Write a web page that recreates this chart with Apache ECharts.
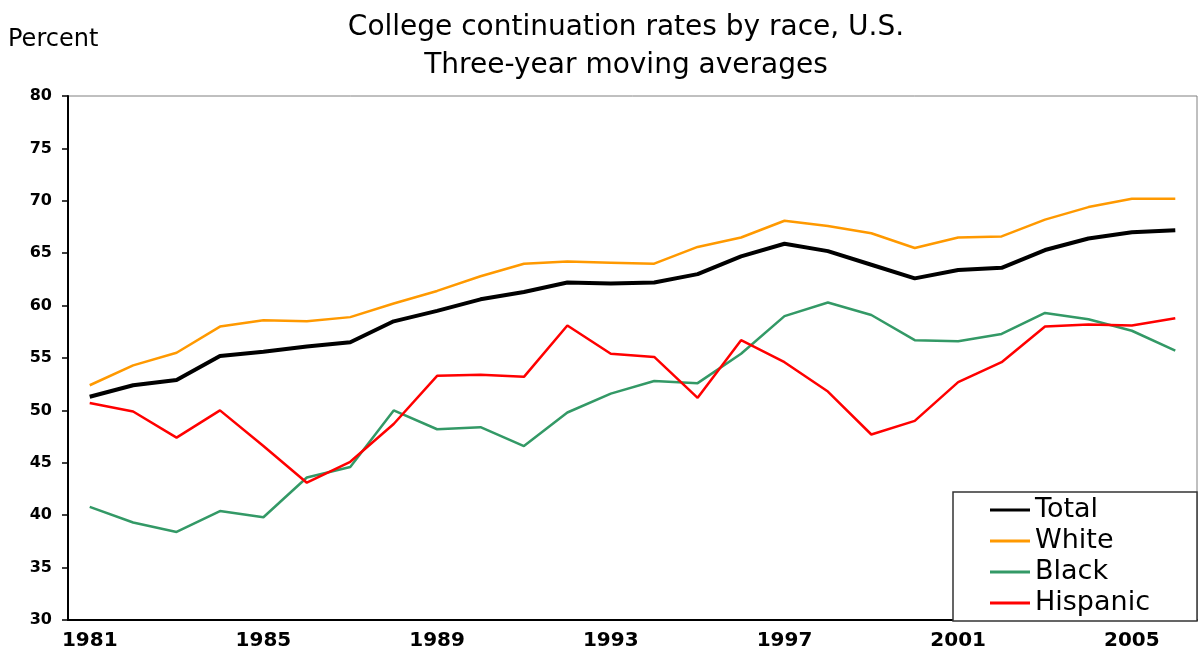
<!DOCTYPE html>
<html>
<head>
<meta charset="utf-8">
<script src="https://cdn.jsdelivr.net/npm/echarts@6/dist/echarts.min.js"></script>
<style>
  html, body { margin: 0; padding: 0; background: #fff; }
  #chart { width: 1199px; height: 655px; }
</style>
</head>
<body>
<div id="chart"></div>
<script>
const years = ['1981','1982','1983','1984','1985','1986','1987','1988','1989','1990','1991','1992','1993',
  '1994','1995','1996','1997','1998','1999','2000','2001','2002','2003','2004','2005','2006'];

const total    = [51.3, 52.4, 52.9, 55.2, 55.6, 56.1, 56.5, 58.5, 59.5, 60.6, 61.3, 62.2, 62.1,
                  62.2, 63.0, 64.7, 65.9, 65.2, 63.9, 62.6, 63.4, 63.6, 65.3, 66.4, 67.0, 67.2];
const white    = [52.4, 54.3, 55.5, 58.0, 58.6, 58.5, 58.9, 60.2, 61.4, 62.8, 64.0, 64.2, 64.1,
                  64.0, 65.6, 66.5, 68.1, 67.6, 66.9, 65.5, 66.5, 66.6, 68.2, 69.4, 70.2, 70.2];
const black    = [40.8, 39.3, 38.4, 40.4, 39.8, 43.6, 44.6, 50.0, 48.2, 48.4, 46.6, 49.8, 51.6,
                  52.8, 52.6, 55.4, 59.0, 60.3, 59.1, 56.7, 56.6, 57.3, 59.3, 58.7, 57.6, 55.7];
const hispanic = [50.7, 49.9, 47.4, 50.0, 46.6, 43.1, 45.1, 48.7, 53.3, 53.4, 53.2, 58.1, 55.4,
                  55.1, 51.2, 56.7, 54.6, 51.8, 47.7, 49.0, 52.7, 54.6, 58.0, 58.2, 58.1, 58.8];

const font = 'DejaVu Sans';

const chart = echarts.init(document.getElementById('chart'));

chart.setOption({
  animation: false,
  backgroundColor: '#fff',
  title: {
    text: 'College continuation rates by race, U.S.\nThree-year moving averages',
    left: 621,
    top: 4,
    textAlign: 'center',
    textStyle: {
      fontFamily: font,
      fontSize: 28,
      fontWeight: 'normal',
      color: '#000',
      lineHeight: 38,
      align: 'center'
    }
  },
  graphic: [
    {
      type: 'text',
      left: 8,
      top: 28,
      style: { text: 'Percent', font: '24px "DejaVu Sans"', fill: '#000' }
    }
  ],
  grid: {
    left: 68,
    right: 2,
    top: 96,
    bottom: 35,
    show: true,
    borderColor: '#808080',
    borderWidth: 1,
    containLabel: false
  },
  legend: {
    orient: 'vertical',
    left: 953,
    top: 492,
    padding: [3, 47, 3, 37],
    icon: 'rect',
    itemWidth: 40,
    itemHeight: 3,
    itemGap: 1,
    backgroundColor: '#fff',
    borderColor: '#333',
    borderWidth: 1.5,
    textStyle: { fontFamily: font, fontSize: 27, color: '#000', lineHeight: 30 },
    data: ['Total', 'White', 'Black', 'Hispanic']
  },
  xAxis: {
    type: 'category',
    data: years,
    boundaryGap: true,
    axisLine: { lineStyle: { color: '#000', width: 2 } },
    axisTick: { interval: 0, length: 6, lineStyle: { color: '#000', width: 1.5 } },
    axisLabel: {
      interval: 3,
      margin: 11,
      fontFamily: font,
      fontSize: 20,
      fontWeight: 'bold',
      color: '#000'
    },
    splitLine: { show: false }
  },
  yAxis: {
    type: 'value',
    min: 30,
    max: 80,
    interval: 5,
    axisLine: { show: true, lineStyle: { color: '#000', width: 2 } },
    axisTick: { show: true, length: 6, lineStyle: { color: '#000', width: 1.5 } },
    axisLabel: {
      margin: 16,
      fontFamily: font,
      fontSize: 16,
      fontWeight: 'bold',
      color: '#000'
    },
    splitLine: { show: false }
  },
  series: [
    {
      name: 'Total', type: 'line', data: total, symbol: 'none',
      lineStyle: { color: '#000', width: 4 }, itemStyle: { color: '#000' }, z: 5
    },
    {
      name: 'White', type: 'line', data: white, symbol: 'none',
      lineStyle: { color: '#FF9900', width: 2.5 }, itemStyle: { color: '#FF9900' }
    },
    {
      name: 'Black', type: 'line', data: black, symbol: 'none',
      lineStyle: { color: '#339966', width: 2.5 }, itemStyle: { color: '#339966' }
    },
    {
      name: 'Hispanic', type: 'line', data: hispanic, symbol: 'none',
      lineStyle: { color: '#FF0000', width: 2.5 }, itemStyle: { color: '#FF0000' }
    }
  ]
});
</script>
</body>
</html>
